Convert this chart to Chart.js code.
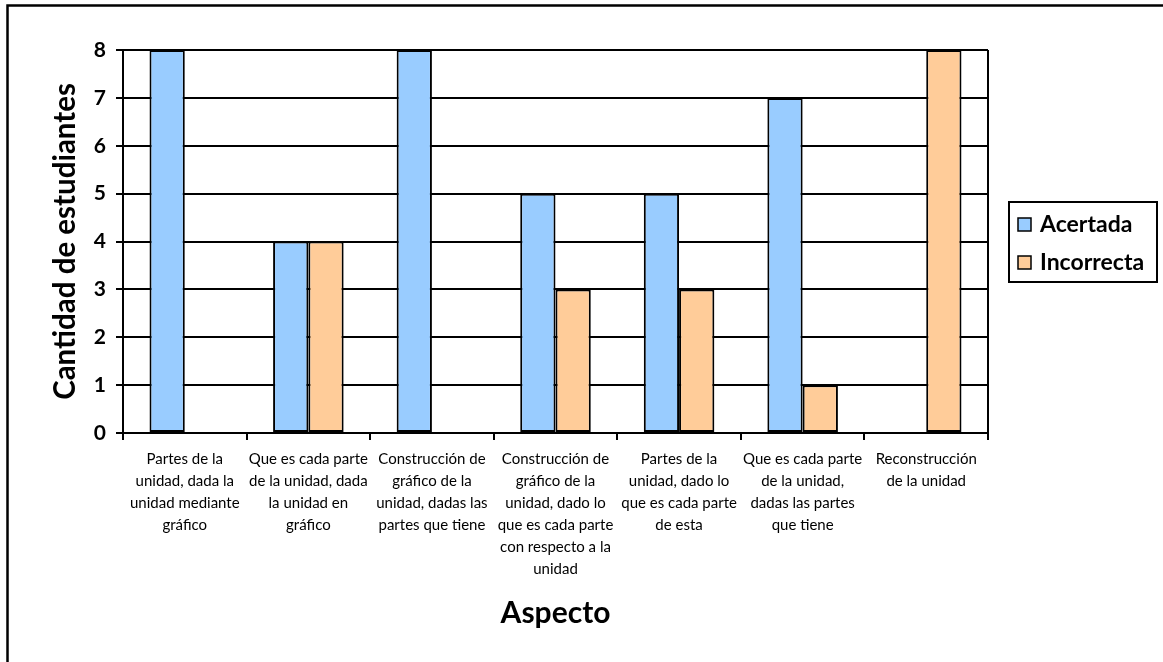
<!DOCTYPE html>
<html>
<head>
<meta charset="utf-8">
<title>Cantidad de estudiantes por aspecto</title>
<script src="https://cdn.jsdelivr.net/npm/chart.js@4/dist/chart.umd.min.js"></script>
<style>
  html, body { margin: 0; padding: 0; background: #ffffff; }
  canvas { display: block; }
</style>
</head>
<body>
<canvas id="chart" width="1163" height="662"></canvas>
<script>
// Aspect categories (multi-line tick labels)
const categories = [
  ["Partes de la", "unidad, dada la", "unidad mediante", "gráfico"],
  ["Que es cada parte", "de la unidad, dada", "la unidad en", "gráfico"],
  ["Construcción de", "gráfico de la", "unidad, dadas las", "partes que tiene"],
  ["Construcción de", "gráfico de la", "unidad, dado lo", "que es cada parte", "con respecto a la", "unidad"],
  ["Partes de la", "unidad, dado lo", "que es cada parte", "de esta"],
  ["Que es cada parte", "de la unidad,", "dadas las partes", "que tiene"],
  ["Reconstrucción", "de la unidad"]
];

// Number of students per answer type
const acertada = [8, 4, 8, 5, 5, 7, 0];
const incorrecta = [0, 4, 0, 3, 3, 1, 8];

const seriesNames = ["Acertada", "Incorrecta"];
const yTicks = [0, 1, 2, 3, 4, 5, 6, 7, 8];

const FONT = "Lato, 'Open Sans', sans-serif";

// Outer frame around the whole chart
const framePlugin = {
  id: 'frame',
  beforeDraw(chart) {
    const ctx = chart.ctx;
    ctx.save();
    ctx.fillStyle = '#ffffff';
    ctx.fillRect(0, 0, chart.width, chart.height);
    ctx.strokeStyle = '#000000';
    ctx.lineWidth = 2.5;
    ctx.strokeRect(7.5, 5.5, chart.width + 20, chart.height + 20);
    ctx.restore();
  }
};

// Border of the plot area (right edge)
const plotBorderPlugin = {
  id: 'plotBorder',
  beforeDatasetsDraw(chart) {
    const { ctx, chartArea: a } = chart;
    ctx.save();
    ctx.strokeStyle = '#000000';
    ctx.lineWidth = 2;
    ctx.beginPath();
    ctx.moveTo(a.right, a.top);
    ctx.lineTo(a.right, a.bottom);
    ctx.stroke();
    ctx.restore();
  }
};

// Boxed legend on the right
const boxLegendPlugin = {
  id: 'boxLegend',
  afterDraw(chart) {
    const ctx = chart.ctx;
    const x = 1009, y = 202, w = 148, h = 80;
    ctx.save();
    ctx.fillStyle = '#ffffff';
    ctx.fillRect(x, y, w, h);
    ctx.strokeStyle = '#000000';
    ctx.lineWidth = 2;
    ctx.strokeRect(x, y, w, h);
    ctx.font = "bold 23px " + FONT;
    ctx.textBaseline = 'middle';
    ctx.textAlign = 'left';
    chart.data.datasets.forEach((ds, i) => {
      const cy = y + 22 + i * 38;
      ctx.fillStyle = ds.backgroundColor;
      ctx.fillRect(x + 9, cy - 6, 13, 13);
      ctx.strokeStyle = '#000000';
      ctx.lineWidth = 1.5;
      ctx.strokeRect(x + 9, cy - 6, 13, 13);
      ctx.fillStyle = '#000000';
      ctx.fillText(ds.label, x + 31, cy + 1);
    });
    ctx.restore();
  }
};

new Chart(document.getElementById('chart'), {
  type: 'bar',
  data: {
    labels: categories,
    datasets: [
      {
        label: seriesNames[0],
        data: acertada,
        backgroundColor: '#99CCFF',
        borderColor: '#000000',
        borderWidth: 2,
        borderSkipped: false,
        categoryPercentage: 0.571,
        barPercentage: 1.0
      },
      {
        label: seriesNames[1],
        data: incorrecta,
        backgroundColor: '#FFCC99',
        borderColor: '#000000',
        borderWidth: 2,
        borderSkipped: false,
        categoryPercentage: 0.571,
        barPercentage: 1.0
      }
    ]
  },
  options: {
    responsive: false,
    animation: false,
    devicePixelRatio: 1,
    layout: { padding: { top: 50, right: 175, bottom: 0, left: 0 } },
    plugins: {
      legend: { display: false },
      tooltip: { enabled: false }
    },
    scales: {
      x: {
        grid: {
          offset: true,
          drawOnChartArea: false,
          drawTicks: true,
          tickLength: 7,
          color: '#000000',
          lineWidth: 2
        },
        border: { color: '#000000', width: 2 },
        ticks: {
          color: '#000000',
          font: { family: FONT, size: 15, lineHeight: 1.47 },
          maxRotation: 0,
          minRotation: 0,
          autoSkip: false,
          padding: 8
        },
        title: {
          display: true,
          text: 'Aspecto',
          color: '#000000',
          font: { family: FONT, size: 30, weight: 'bold', lineHeight: 1.2 },
          padding: { top: 0, bottom: 31 }
        },
        afterFit(scale) { scale.height = 229; }
      },
      y: {
        min: 0,
        max: 8,
        afterBuildTicks(scale) {
          scale.ticks = yTicks.map(v => ({ value: v }));
        },
        grid: {
          color: '#000000',
          lineWidth: 2,
          drawTicks: true,
          tickLength: 7
        },
        border: { color: '#000000', width: 2 },
        ticks: {
          color: '#000000',
          font: { family: FONT, size: 21, weight: 'bold' },
          padding: 10
        },
        title: {
          display: true,
          text: 'Cantidad de estudiantes',
          color: '#000000',
          font: { family: FONT, size: 29.5, weight: 'bold', lineHeight: 1.2 },
          padding: { top: 48, bottom: 0 }
        },
        afterFit(scale) { scale.width = 123; }
      }
    }
  },
  plugins: [framePlugin, plotBorderPlugin, boxLegendPlugin]
});
</script>
</body>
</html>
